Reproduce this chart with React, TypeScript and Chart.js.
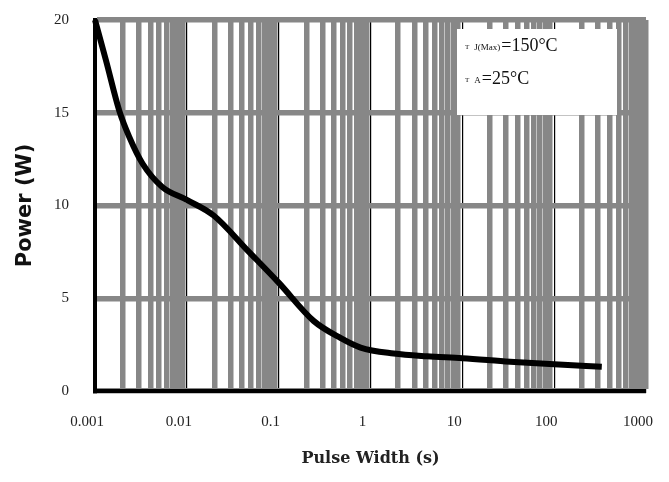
import { useEffect, useRef } from "react";
import { Chart, registerables } from "chart.js";

Chart.register(...registerables);

// ---- data ----
const pulseWidth = [0.001, 0.00132, 0.00184, 0.00236, 0.0033, 0.0054, 0.01, 0.0196, 0.046, 0.1, 0.24, 0.47, 0.78, 1.79, 4.13, 10, 33, 100, 330];
const power = [20, 17.8, 15.1, 13.7, 12.25, 11.0, 10.3, 9.46, 7.57, 5.84, 3.78, 2.86, 2.34, 2.02, 1.87, 1.77, 1.58, 1.44, 1.31];
const xTickLabels = ["0.001", "0.01", "0.1", "1", "10", "100", "1000"];
const xDecadeExponents = [-3, -2, -1, 0, 1, 2, 3];
const yTickValues = [0, 5, 10, 15, 20];
const legendMain = ["T", "T"];
const legendSub = ["J(Max)", "A"];
const legendValue = ["=150°C", "=25°C"];

const GRAY = "#878787";

function isDecade(v: number) {
  const l = Math.log10(v);
  return Math.abs(l - Math.round(l)) < 1e-9;
}

const tempBoxPlugin = {
  id: "tempBox",
  afterDraw(chart: any) {
    const { ctx, chartArea } = chart;
    const w = 160;
    const h = 86;
    const x0 = chartArea.right - 29 - w;
    const y0 = chartArea.top + 9;
    ctx.save();
    ctx.fillStyle = "#ffffff";
    ctx.fillRect(x0, y0, w, h);
    ctx.fillStyle = "#111";
    ctx.textBaseline = "alphabetic";
    ctx.textAlign = "left";
    for (let i = 0; i < legendMain.length; i++) {
      const base = y0 + 22 + i * 33;
      let x = x0 + 8;
      ctx.font = '7px "Liberation Serif", serif';
      ctx.fillText(legendMain[i], x, base - 2);
      x += ctx.measureText(legendMain[i]).width + 5;
      ctx.font = '9px "Liberation Serif", serif';
      ctx.fillText(legendSub[i], x, base - 1);
      x += ctx.measureText(legendSub[i]).width + 1;
      ctx.font = '18px "Liberation Serif", serif';
      ctx.fillText(legendValue[i], x, base);
    }
    ctx.restore();
  },
};

export default function App() {
  const canvasRef = useRef<HTMLCanvasElement | null>(null);

  useEffect(() => {
    if (!canvasRef.current) return;
    const points = pulseWidth.map((x, i) => ({ x, y: power[i] }));
    const chart = new Chart(canvasRef.current, {
      type: "line",
      data: {
        datasets: [
          {
            data: points,
            borderColor: "#000",
            borderWidth: 6,
            pointRadius: 0,
            fill: false,
            cubicInterpolationMode: "monotone",
            clip: false as any,
          },
        ],
      },
      options: {
        animation: false,
        responsive: true,
        maintainAspectRatio: false,
        layout: { padding: { top: 12, right: 15, left: 0, bottom: 0 } },
        plugins: {
          legend: { display: false },
          tooltip: { enabled: false },
        },
        scales: {
          x: {
            type: "logarithmic",
            min: 0.001,
            max: 1000,
            afterBuildTicks: (scale: any) => {
              const ticks: { value: number }[] = [];
              for (let e = -3; e < 3; e++) {
                for (let m = 1; m <= 9; m++) {
                  ticks.push({ value: parseFloat((m * Math.pow(10, e)).toPrecision(6)) });
                }
              }
              ticks.push({ value: 1000 });
              scale.ticks = ticks;
            },
            afterFit: (scale: any) => {
              scale.height = 83;
              scale.paddingLeft = 0;
              scale.paddingRight = 0;
            },
            ticks: {
              autoSkip: false,
              maxRotation: 0,
              padding: 22,
              labelOffset: -8,
              color: "#222",
              font: { family: '"Liberation Serif", serif', size: 15 },
              callback: (v: any) => {
                const val = Number(v);
                if (!isDecade(val)) return "";
                const idx = xDecadeExponents.indexOf(Math.round(Math.log10(val)));
                return idx >= 0 ? xTickLabels[idx] : "";
              },
            },
            grid: {
              drawTicks: false,
              color: (c: any) => {
                const v = c.tick ? c.tick.value : 0;
                return isDecade(v) && v < 1000 ? "#000" : GRAY;
              },
              lineWidth: (c: any) => {
                const v = c.tick ? c.tick.value : 0;
                return isDecade(v) && v < 1000 ? 1.2 : 5.5;
              },
            },
            border: { display: true, color: "#000", width: 4 },
            title: {
              display: true,
              text: "Pulse Width (s)",
              color: "#222",
              font: { family: '"DejaVu Serif", serif', size: 16, weight: "bold" },
              padding: { top: 0, bottom: 6 },
            },
          },
          y: {
            min: 0,
            max: 20,
            afterBuildTicks: (scale: any) => {
              scale.ticks = yTickValues.map((v) => ({ value: v }));
            },
            afterFit: (scale: any) => {
              scale.width = 87;
              scale.paddingTop = 0;
              scale.paddingBottom = 0;
            },
            ticks: {
              padding: 26,
              color: "#222",
              font: { family: '"Liberation Serif", serif', size: 15 },
            },
            grid: {
              drawTicks: false,
              color: GRAY,
              lineWidth: 5.5,
            },
            border: { display: true, color: "#000", width: 4 },
            title: {
              display: true,
              text: "Power (W)",
              color: "#111",
              font: { family: '"DejaVu Sans", sans-serif', size: 21, weight: "bold" },
              padding: { top: 5, bottom: 0 },
            },
          },
        },
      },
      plugins: [tempBoxPlugin],
    } as any);
    return () => chart.destroy();
  }, []);

  return (
    <div style={{ position: "relative", width: 653, height: 466, background: "#fff" }}>
      <canvas ref={canvasRef} />
    </div>
  );
}
